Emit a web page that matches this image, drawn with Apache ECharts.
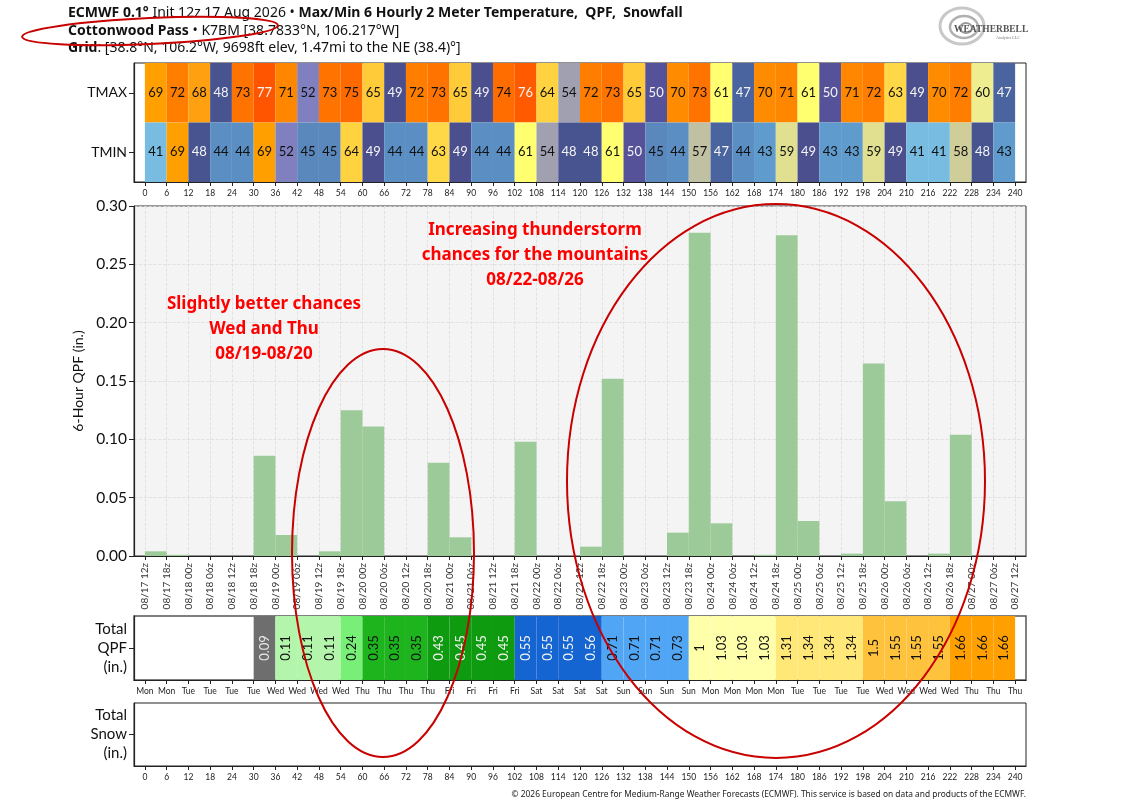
<!DOCTYPE html>
<html>
<head>
<meta charset="utf-8">
<script src="https://cdn.jsdelivr.net/npm/echarts@6/dist/echarts.min.js"></script>
<style>
  html, body { margin: 0; background: #fff; }
  #chart { width: 1147px; height: 807px; }
</style>
</head>
<body>
<div id="chart"></div>
<script>
// forecast hours (start of each 6 h step) and axis ticks
const HOURS = [0, 6, 12, 18, 24, 30, 36, 42, 48, 54, 60, 66, 72, 78, 84, 90, 96, 102, 108, 114,
  120, 126, 132, 138, 144, 150, 156, 162, 168, 174, 180, 186, 192, 198, 204, 210, 216, 222, 228, 234, 240]

const TIME_LABELS = ['08/17 12z', '08/17 18z', '08/18 00z', '08/18 06z', '08/18 12z', '08/18 18z',
  '08/19 00z', '08/19 06z', '08/19 12z', '08/19 18z', '08/20 00z', '08/20 06z', '08/20 12z', '08/20 18z',
  '08/21 00z', '08/21 06z', '08/21 12z', '08/21 18z', '08/22 00z', '08/22 06z', '08/22 12z', '08/22 18z',
  '08/23 00z', '08/23 06z', '08/23 12z', '08/23 18z', '08/24 00z', '08/24 06z', '08/24 12z', '08/24 18z',
  '08/25 00z', '08/25 06z', '08/25 12z', '08/25 18z', '08/26 00z', '08/26 06z', '08/26 12z', '08/26 18z',
  '08/27 00z', '08/27 06z', '08/27 12z']

const DAY_LABELS = ['Mon', 'Mon', 'Tue', 'Tue', 'Tue', 'Tue', 'Wed', 'Wed', 'Wed', 'Wed', 'Thu', 'Thu',
  'Thu', 'Thu', 'Fri', 'Fri', 'Fri', 'Fri', 'Sat', 'Sat', 'Sat', 'Sat', 'Sun', 'Sun', 'Sun', 'Sun',
  'Mon', 'Mon', 'Mon', 'Mon', 'Tue', 'Tue', 'Tue', 'Tue', 'Wed', 'Wed', 'Wed', 'Wed', 'Thu', 'Thu', 'Thu']

const TMAX = [69, 72, 68, 48, 73, 77, 71, 52, 73, 75, 65, 49, 72, 73, 65, 49, 74, 76, 64, 54,
  72, 73, 65, 50, 70, 73, 61, 47, 70, 71, 61, 50, 71, 72, 63, 49, 70, 72, 60, 47]

const TMIN = [41, 69, 48, 44, 44, 69, 52, 45, 45, 64, 49, 44, 44, 63, 49, 44, 44, 61, 54, 48,
  48, 61, 50, 45, 44, 57, 47, 44, 43, 59, 49, 43, 43, 59, 49, 41, 41, 58, 48, 43]

// 6-hour QPF (in.)
const QPF = [0.004, 0.001, 0, 0, 0, 0.086, 0.018, 0, 0.004, 0.125, 0.111, 0, 0, 0.080, 0.016, 0, 0, 0.098, 0, 0,
  0.008, 0.152, 0, 0, 0.020, 0.277, 0.028, 0, 0.001, 0.275, 0.030, 0, 0.002, 0.165, 0.047, 0, 0.002, 0.104, 0, 0]

// running total QPF shown in the strip (null = blank cell)
const TOTAL_QPF = [null, null, null, null, null, 0.09, 0.11, 0.11, 0.11, 0.24, 0.35, 0.35, 0.35, 0.43, 0.45, 0.45,
  0.45, 0.55, 0.55, 0.55, 0.56, 0.71, 0.71, 0.71, 0.73, 1, 1.03, 1.03, 1.03, 1.31, 1.34, 1.34, 1.34, 1.5,
  1.55, 1.55, 1.55, 1.66, 1.66, 1.66]

const FONT = 'Lato, "Noto Sans", sans-serif'
const NOTO = '"Noto Sans", sans-serif'

const TEMP_COLORS = {
  41: '#78bce2', 43: '#5f9bcd', 44: '#5b8fc4', 45: '#5a87bc', 47: '#4a64a0', 48: '#485490', 49: '#4b4f8e',
  50: '#55529a', 52: '#8080c0', 54: '#a0a0b0', 57: '#c0c0a2', 58: '#d0ce98', 59: '#e0e090', 60: '#eeee90',
  61: '#ffff70', 63: '#ffd848', 64: '#ffd340', 65: '#ffcb38', 68: '#ffa010', 69: '#ffa000', 70: '#ff8c00',
  71: '#ff8700', 72: '#ff7e00', 73: '#ff7300', 74: '#ff6c00', 75: '#ff6a00', 76: '#ff5a00', 77: '#ff5500'
}

function tempColor(v) {
  return TEMP_COLORS[v] || '#999'
}

function tempTextColor(v) {
  if ((v >= 47 && v <= 50) || v >= 76) return '#f4f4f4'
  return '#111'
}

function totalColor(v) {
  if (v < 0.1) return '#6e6e6e'
  if (v < 0.2) return '#b4f5ac'
  if (v < 0.3) return '#78f078'
  if (v < 0.4) return '#1eb41e'
  if (v < 0.5) return '#0f9b0f'
  if (v < 0.7) return '#1464d2'
  if (v < 1) return '#50a5f5'
  if (v < 1.25) return '#ffffaa'
  if (v < 1.5) return '#ffe878'
  if (v < 1.6) return '#ffc23c'
  return '#ffa000'
}

function totalTextColor(v) {
  if (v < 0.1) return '#e8e8e8'
  if (v >= 0.4 && v < 0.7) return '#f4f4f4'
  return '#111'
}

const GRID_LEFT = 134
const GRID_WIDTH = 892

function hourAxis(gridIndex, extra) {
  return Object.assign({
    type: 'value',
    gridIndex: gridIndex,
    min: -3,
    max: 243,
    axisLine: { show: true, onZero: false, lineStyle: { color: '#222', width: 1.2 } },
    axisTick: { show: true, customValues: HOURS, length: 4, lineStyle: { color: '#222' } },
    axisLabel: { customValues: HOURS, fontSize: 8.5, color: '#222', fontFamily: FONT, margin: 7 },
    splitLine: { show: false }
  }, extra || {})
}

function labelAxis(gridIndex, data, fontSize, lineHeight) {
  return {
    type: 'category',
    gridIndex: gridIndex,
    data: data,
    axisLine: { show: true, onZero: false, lineStyle: { color: '#222', width: 1.2 } },
    axisTick: { show: true, alignWithLabel: true, length: 5, lineStyle: { color: '#222' } },
    axisLabel: { fontSize: fontSize, lineHeight: lineHeight, color: '#111', fontFamily: FONT, margin: 7, align: 'right' },
    splitLine: { show: false }
  }
}

// one 6 h cell in a strip (temperature or total QPF)
function cellRenderer(fillFn, textFn, fontSize, rotate) {
  return function (params, api) {
    const h = api.value(0)
    const c = api.value(1)
    const v = api.value(2)
    const p0 = api.coord([h, c])
    const p1 = api.coord([h + 6, c])
    const bh = api.size([0, 1])[1]
    return {
      type: 'rect',
      shape: { x: p0[0], y: p0[1] - bh / 2, width: p1[0] - p0[0], height: bh },
      style: { fill: fillFn(v) },
      textContent: {
        style: { text: String(v), fill: textFn(v), fontSize: fontSize, fontFamily: FONT }
      },
      textConfig: { position: 'inside', rotation: rotate ? Math.PI / 2 : 0 }
    }
  }
}

function barRenderer(params, api) {
  const h = api.value(0)
  const v = api.value(1)
  const p0 = api.coord([h, v])
  const p1 = api.coord([h + 6, 0])
  return {
    type: 'rect',
    shape: { x: p0[0], y: p0[1], width: p1[0] - p0[0], height: p1[1] - p0[1] },
    style: { fill: '#9cca98' }
  }
}

const tmaxData = TMAX.map((v, i) => [HOURS[i], 1, v])
const tminData = TMIN.map((v, i) => [HOURS[i], 0, v])
const qpfData = QPF.map((v, i) => [HOURS[i], v])
const totalData = []
TOTAL_QPF.forEach((v, i) => {
  if (v !== null) totalData.push([HOURS[i], 0, v])
})

const chart = echarts.init(document.getElementById('chart'), null, { renderer: 'canvas' })

const redLine = { fill: 'none', stroke: '#c80000', lineWidth: 2 }
const redText = { fontSize: 17, fontWeight: 'bold', fill: '#ff0000', fontFamily: NOTO, align: 'center', lineHeight: 25 }
const headRich = { b: { fontWeight: 'bold', fontSize: 14, fill: '#111', fontFamily: NOTO } }

chart.setOption({
  animation: false,
  backgroundColor: '#fff',
  grid: [
    { left: GRID_LEFT, top: 63, width: GRID_WIDTH, height: 119, show: true, borderColor: '#222', borderWidth: 1 },
    { left: GRID_LEFT, top: 206, width: GRID_WIDTH, height: 350, show: true, backgroundColor: '#f4f4f4', borderColor: '#333', borderWidth: 1 },
    { left: GRID_LEFT, top: 616, width: GRID_WIDTH, height: 64, show: true, borderColor: '#555', borderWidth: 1.5 },
    { left: GRID_LEFT, top: 703, width: GRID_WIDTH, height: 63, show: true, borderColor: '#222', borderWidth: 1 }
  ],
  xAxis: [
    hourAxis(0),
    hourAxis(1, {
      axisLabel: {
        customValues: HOURS, fontSize: 10, color: '#333', fontFamily: FONT, margin: 7, rotate: 90,
        formatter: v => TIME_LABELS[HOURS.indexOf(v)]
      },
      splitLine: { show: true, lineStyle: { color: '#dcdcdc', type: 'dashed', width: 0.8 } }
    }),
    hourAxis(2, {
      axisLabel: {
        customValues: HOURS, fontSize: 8.5, color: '#222', fontFamily: FONT, margin: 7,
        formatter: v => DAY_LABELS[HOURS.indexOf(v)]
      }
    }),
    hourAxis(3)
  ],
  yAxis: [
    labelAxis(0, ['TMIN', 'TMAX'], 14, 16),
    {
      type: 'value',
      gridIndex: 1,
      min: 0,
      max: 0.3,
      interval: 0.05,
      name: '6-Hour QPF (in.)',
      nameLocation: 'middle',
      nameRotate: 90,
      nameGap: 48,
      nameTextStyle: { fontSize: 14, color: '#111', fontFamily: FONT },
      axisLine: { show: true, onZero: false, lineStyle: { color: '#222', width: 1.2 } },
      axisTick: { show: true, length: 5, lineStyle: { color: '#222' } },
      axisLabel: { fontSize: 15.5, color: '#111', fontFamily: FONT, margin: 7, formatter: v => v.toFixed(2) },
      splitLine: { show: true, lineStyle: { color: '#dcdcdc', type: 'dashed', width: 0.8 } }
    },
    labelAxis(2, ['Total\nQPF\n(in.)'], 15, 19),
    labelAxis(3, ['Total\nSnow\n(in.)'], 15, 19)
  ],
  series: [
    {
      type: 'custom', name: 'TMAX', xAxisIndex: 0, yAxisIndex: 0, data: tmaxData,
      renderItem: cellRenderer(tempColor, tempTextColor, 13, false)
    },
    {
      type: 'custom', name: 'TMIN', xAxisIndex: 0, yAxisIndex: 0, data: tminData,
      renderItem: cellRenderer(tempColor, tempTextColor, 13, false)
    },
    {
      type: 'custom', name: 'QPF', xAxisIndex: 1, yAxisIndex: 1, data: qpfData,
      renderItem: barRenderer, clip: true
    },
    {
      type: 'custom', name: 'Total QPF', xAxisIndex: 2, yAxisIndex: 2, data: totalData,
      renderItem: cellRenderer(totalColor, totalTextColor, 13, true)
    }
  ],
  graphic: [
    {
      type: 'text', z: 10,
      style: {
        x: 68, y: 13, verticalAlign: 'middle',
        text: '{b|ECMWF 0.1°} Init 12z 17 Aug 2026 • {b|Max/Min 6 Hourly 2 Meter Temperature,  QPF,  Snowfall}',
        fontSize: 14, fill: '#111', fontFamily: NOTO, rich: headRich
      }
    },
    {
      type: 'text', z: 10,
      style: {
        x: 68, y: 31, verticalAlign: 'middle',
        text: '{b|Cottonwood Pass} • K7BM [38.7833°N, 106.217°W]',
        fontSize: 14, fill: '#111', fontFamily: NOTO, rich: headRich
      }
    },
    {
      type: 'text', z: 10,
      style: {
        x: 68, y: 48, verticalAlign: 'middle',
        text: '{b|Grid}: [38.8°N, 106.2°W, 9698ft elev, 1.47mi to the NE (38.4)°]',
        fontSize: 14, fill: '#111', fontFamily: NOTO, rich: headRich
      }
    },
    // logo
    { type: 'ellipse', z: 5, shape: { cx: 962, cy: 26, rx: 22, ry: 18 }, style: { fill: 'none', stroke: '#c8c8c8', lineWidth: 3 } },
    { type: 'ellipse', z: 5, shape: { cx: 964, cy: 27, rx: 14, ry: 11 }, style: { fill: 'none', stroke: '#b0b0b0', lineWidth: 2.5 } },
    { type: 'ellipse', z: 5, shape: { cx: 966, cy: 28, rx: 6, ry: 5 }, style: { fill: 'none', stroke: '#999', lineWidth: 2 } },
    {
      type: 'text', left: 954, top: 25, z: 6,
      style: { text: 'WEATHERBELL', fontSize: 9.5, fontWeight: 'bold', fill: '#555', fontFamily: '"Liberation Serif", serif' }
    },
    {
      type: 'text', left: 996, top: 36, z: 6,
      style: { text: 'Analytics LLC', fontSize: 4, fill: '#777', fontFamily: '"Liberation Serif", serif' }
    },
    // annotations
    { type: 'text', x: 264, y: 292, z: 20, style: Object.assign({ text: 'Slightly better chances\nWed and Thu\n08/19-08/20' }, redText) },
    { type: 'text', x: 535, y: 218, z: 20, style: Object.assign({ text: 'Increasing thunderstorm\nchances for the mountains\n08/22-08/26' }, redText) },
    { type: 'ellipse', z: 20, shape: { cx: 383, cy: 553, rx: 91, ry: 204 }, style: redLine },
    { type: 'ellipse', z: 20, shape: { cx: 776, cy: 481, rx: 209, ry: 277 }, style: redLine },
    { type: 'ellipse', z: 20, originX: 150, originY: 31, rotation: 0.045, shape: { cx: 150, cy: 31, rx: 128, ry: 13 }, style: redLine },
    {
      type: 'text', right: 121, top: 791, z: 10,
      style: {
        text: '© 2026 European Centre for Medium-Range Weather Forecasts (ECMWF). This service is based on data and products of the ECMWF.',
        fontSize: 8.4, fill: '#222', fontFamily: NOTO
      }
    }
  ]
})
</script>
</body>
</html>
